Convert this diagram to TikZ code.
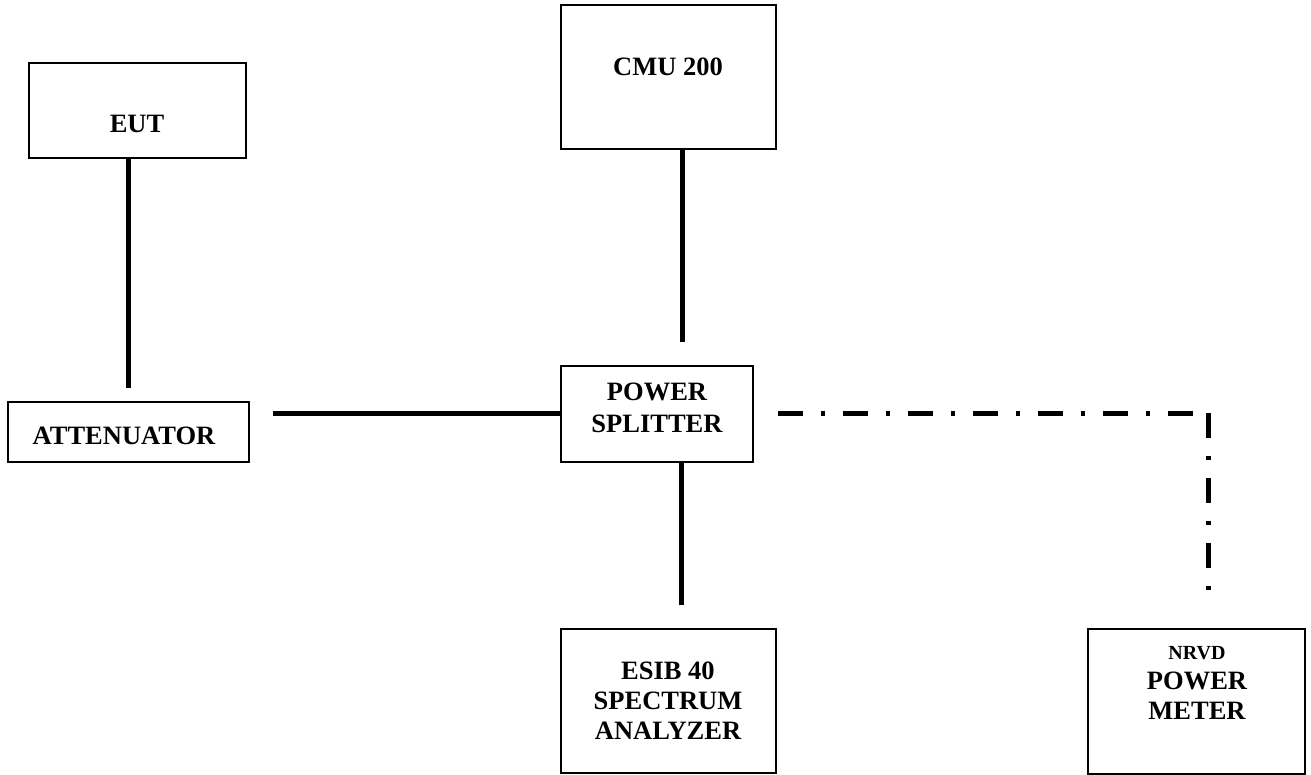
\documentclass[tikz,border=0pt]{standalone}
\usepackage{fontspec}
\setmainfont{Liberation Serif}
\usepackage{tikz}
\usetikzlibrary{positioning}

\begin{document}
\begin{tikzpicture}[x=1pt,y=-1pt,
  unit/.style={draw,line width=2pt,inner sep=0pt},
  tag/.style={font=\bfseries\fontsize{26.5}{30}\selectfont,align=center,inner sep=0pt},
  wire/.style={line width=5pt},
  sense/.style={line width=5pt,dash pattern=on 25pt off 18pt on 4pt off 18pt}]
\useasboundingbox (0,0) rectangle (1311,775);
% instruments
\node[unit,minimum width=217,minimum height=95] (eut) at (137.5,110.5) {};
\node[tag] (eutname) at (137,124) {EUT};
\node[unit,minimum width=215,minimum height=144] (cmu) at (668.5,77) {};
\node[tag] (cmuname) at (668,67) {CMU 200};
\node[unit,minimum width=241,minimum height=60] (att) at (128.5,432) {};
\node[tag] (attname) at (124,436) {ATTENUATOR};
\node[unit,minimum width=192,minimum height=96] (split) at (657,414) {};
\node[tag,font=\bfseries\fontsize{26.5}{32}\selectfont] (splitname) at (657,408) {POWER\\SPLITTER};
\node[unit,minimum width=215,minimum height=144] (esib) at (668.5,701) {};
\node[tag] (esibname) at (668,701) {ESIB 40\\SPECTRUM\\ANALYZER};
\node[unit,minimum width=217,minimum height=145] (nrvd) at (1196.5,701.5) {};
\node[tag] (nrvdname) at (1197,683) {{\fontsize{20}{22}\selectfont NRVD}\\POWER\\METER};
% cable ends
\coordinate (eutend) at (128,388);
\coordinate (cmuend) at (682,342);
\coordinate (attend) at (273,413);
\coordinate (esibend) at (681,605);
\coordinate (bend) at (1208,413);
\coordinate (nrvdend) at (1208,592);
\draw[wire] (eut.south -| eutend) -- (eutend);
\draw[wire] (cmu.south -| cmuend) -- (cmuend);
\draw[wire] (attend) -- (attend -| split.west);
\draw[wire] (split.south -| esibend) -- (esibend);
\draw[sense] ([xshift=24pt]split.east |- bend) -- (bend);
\draw[sense] (bend) -- (nrvdend);
\end{tikzpicture}
\end{document}
